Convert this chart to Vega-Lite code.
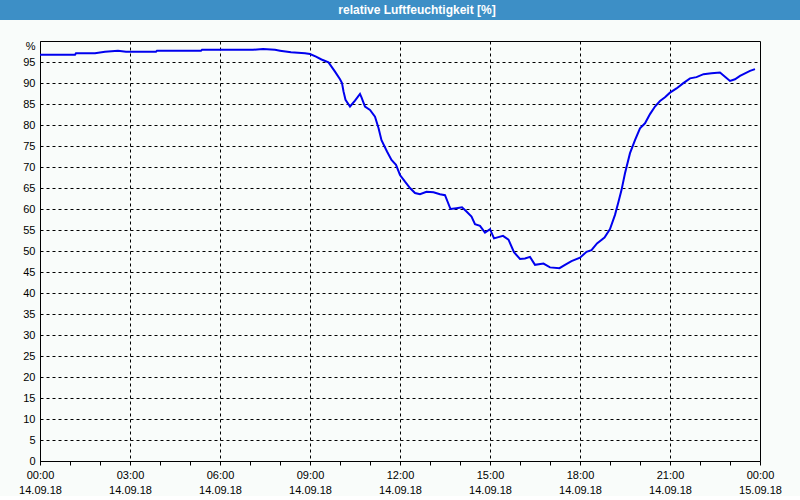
{
  "$schema": "https://vega.github.io/schema/vega-lite/v6.json",
  "padding": 0,
  "background": "#f9fcfa",
  "spacing": 21,
  "center": true,
  "bounds": "flush",
  "config": {
    "axis": {"labelFont": "Liberation Sans", "labelFontSize": 11, "labelColor": "#000000", "domainColor": "#000000", "tickColor": "#000000", "titleFont": "Liberation Sans"}
  },
  "vconcat": [
    {
      "width": 800,
      "height": 20,
      "view": {"fill": "#3d8fc6", "stroke": null},
      "data": {"values": [{"title": "relative Luftfeuchtigkeit [%]"}]},
      "mark": {"type": "text", "color": "#ffffff", "font": "Liberation Sans", "fontSize": 12, "fontWeight": "bold", "dx": 17, "baseline": "middle"},
      "encoding": {"text": {"field": "title", "type": "nominal"}}
    },
    {
      "width": 720,
      "height": 420,
      "view": {"stroke": "#000000", "strokeWidth": 1},
      "data": {"values": [
        {"t": "2018-09-14T00:00", "v": 96.7},
        {"t": "2018-09-14T01:10", "v": 96.7},
        {"t": "2018-09-14T01:12", "v": 97.1},
        {"t": "2018-09-14T01:50", "v": 97.1},
        {"t": "2018-09-14T02:10", "v": 97.45},
        {"t": "2018-09-14T02:36", "v": 97.7},
        {"t": "2018-09-14T02:52", "v": 97.45},
        {"t": "2018-09-14T03:52", "v": 97.45},
        {"t": "2018-09-14T03:54", "v": 97.7},
        {"t": "2018-09-14T05:22", "v": 97.7},
        {"t": "2018-09-14T05:24", "v": 97.9},
        {"t": "2018-09-14T07:06", "v": 97.9},
        {"t": "2018-09-14T07:26", "v": 98.1},
        {"t": "2018-09-14T07:50", "v": 97.9},
        {"t": "2018-09-14T08:00", "v": 97.7},
        {"t": "2018-09-14T08:22", "v": 97.3},
        {"t": "2018-09-14T08:50", "v": 97.1},
        {"t": "2018-09-14T09:00", "v": 96.9},
        {"t": "2018-09-14T09:12", "v": 96.3},
        {"t": "2018-09-14T09:23", "v": 95.6},
        {"t": "2018-09-14T09:37", "v": 94.9},
        {"t": "2018-09-14T09:43", "v": 93.9},
        {"t": "2018-09-14T09:50", "v": 92.7},
        {"t": "2018-09-14T10:00", "v": 90.9},
        {"t": "2018-09-14T10:04", "v": 90.0},
        {"t": "2018-09-14T10:07", "v": 88.0},
        {"t": "2018-09-14T10:11", "v": 86.0},
        {"t": "2018-09-14T10:20", "v": 84.4},
        {"t": "2018-09-14T10:30", "v": 85.8},
        {"t": "2018-09-14T10:40", "v": 87.4},
        {"t": "2018-09-14T10:43", "v": 86.6},
        {"t": "2018-09-14T10:50", "v": 84.4},
        {"t": "2018-09-14T11:00", "v": 83.6},
        {"t": "2018-09-14T11:10", "v": 82.0},
        {"t": "2018-09-14T11:17", "v": 79.3},
        {"t": "2018-09-14T11:23", "v": 76.4},
        {"t": "2018-09-14T11:34", "v": 73.7},
        {"t": "2018-09-14T11:43", "v": 71.7},
        {"t": "2018-09-14T11:52", "v": 70.5},
        {"t": "2018-09-14T12:00", "v": 68.1},
        {"t": "2018-09-14T12:10", "v": 66.5},
        {"t": "2018-09-14T12:20", "v": 65.0},
        {"t": "2018-09-14T12:30", "v": 63.8},
        {"t": "2018-09-14T12:40", "v": 63.5},
        {"t": "2018-09-14T12:53", "v": 64.1},
        {"t": "2018-09-14T13:07", "v": 64.0},
        {"t": "2018-09-14T13:20", "v": 63.5},
        {"t": "2018-09-14T13:30", "v": 63.3},
        {"t": "2018-09-14T13:41", "v": 60.0},
        {"t": "2018-09-14T13:53", "v": 60.2},
        {"t": "2018-09-14T14:04", "v": 60.4},
        {"t": "2018-09-14T14:13", "v": 59.4},
        {"t": "2018-09-14T14:23", "v": 58.2},
        {"t": "2018-09-14T14:30", "v": 56.4},
        {"t": "2018-09-14T14:40", "v": 56.0},
        {"t": "2018-09-14T14:50", "v": 54.4},
        {"t": "2018-09-14T15:00", "v": 55.2},
        {"t": "2018-09-14T15:08", "v": 53.0},
        {"t": "2018-09-14T15:26", "v": 53.6},
        {"t": "2018-09-14T15:37", "v": 52.7},
        {"t": "2018-09-14T15:48", "v": 49.7},
        {"t": "2018-09-14T16:00", "v": 48.1},
        {"t": "2018-09-14T16:10", "v": 48.2},
        {"t": "2018-09-14T16:20", "v": 48.6},
        {"t": "2018-09-14T16:30", "v": 46.7},
        {"t": "2018-09-14T16:47", "v": 47.0},
        {"t": "2018-09-14T17:00", "v": 46.1},
        {"t": "2018-09-14T17:19", "v": 45.9},
        {"t": "2018-09-14T17:30", "v": 46.7},
        {"t": "2018-09-14T17:43", "v": 47.6},
        {"t": "2018-09-14T18:00", "v": 48.4},
        {"t": "2018-09-14T18:13", "v": 49.8},
        {"t": "2018-09-14T18:23", "v": 50.2},
        {"t": "2018-09-14T18:34", "v": 51.8},
        {"t": "2018-09-14T18:49", "v": 53.2},
        {"t": "2018-09-14T19:00", "v": 55.2},
        {"t": "2018-09-14T19:10", "v": 58.6},
        {"t": "2018-09-14T19:17", "v": 61.7},
        {"t": "2018-09-14T19:23", "v": 64.5},
        {"t": "2018-09-14T19:30", "v": 68.5},
        {"t": "2018-09-14T19:40", "v": 73.3},
        {"t": "2018-09-14T19:50", "v": 76.4},
        {"t": "2018-09-14T20:00", "v": 79.2},
        {"t": "2018-09-14T20:10", "v": 80.4},
        {"t": "2018-09-14T20:20", "v": 82.6},
        {"t": "2018-09-14T20:30", "v": 84.4},
        {"t": "2018-09-14T20:40", "v": 85.7},
        {"t": "2018-09-14T20:50", "v": 86.6},
        {"t": "2018-09-14T21:00", "v": 87.7},
        {"t": "2018-09-14T21:13", "v": 88.7},
        {"t": "2018-09-14T21:26", "v": 89.9},
        {"t": "2018-09-14T21:40", "v": 91.1},
        {"t": "2018-09-14T21:53", "v": 91.4},
        {"t": "2018-09-14T22:07", "v": 92.1},
        {"t": "2018-09-14T22:23", "v": 92.3},
        {"t": "2018-09-14T22:40", "v": 92.5},
        {"t": "2018-09-14T22:50", "v": 91.5},
        {"t": "2018-09-14T23:00", "v": 90.5},
        {"t": "2018-09-14T23:10", "v": 90.9},
        {"t": "2018-09-14T23:20", "v": 91.7},
        {"t": "2018-09-14T23:30", "v": 92.3},
        {"t": "2018-09-14T23:40", "v": 92.9},
        {"t": "2018-09-14T23:50", "v": 93.3}
      ]},
      "encoding": {
        "y": {
          "field": "v",
          "type": "quantitative",
          "scale": {"domain": [0, 100], "nice": false},
          "axis": {
            "title": "%",
            "titleAngle": 0,
            "titleAlign": "right",
            "titleBaseline": "middle",
            "titleX": -5,
            "titleY": 5,
            "titleFontSize": 11,
            "titleFontWeight": "normal",
            "titleColor": "#000000",
            "values": [0, 5, 10, 15, 20, 25, 30, 35, 40, 45, 50, 55, 60, 65, 70, 75, 80, 85, 90, 95],
            "ticks": false,
            "labelPadding": 5,
            "gridColor": "#000000",
            "gridDash": [3, 3],
            "labelOverlap": false
          }
        }
      },
      "layer": [
        {
          "mark": {"type": "line", "strokeOpacity": 0},
          "encoding": {
            "x": {
              "field": "t",
              "type": "temporal",
              "scale": {"domain": [{"year": 2018, "month": 9, "date": 14, "hours": 0}, {"year": 2018, "month": 9, "date": 15, "hours": 0}]},
              "axis": {
                "orient": "bottom",
                "title": null,
                "values": [
                  {"year": 2018, "month": 9, "date": 14, "hours": 3}, {"year": 2018, "month": 9, "date": 14, "hours": 6},
                  {"year": 2018, "month": 9, "date": 14, "hours": 9}, {"year": 2018, "month": 9, "date": 14, "hours": 12},
                  {"year": 2018, "month": 9, "date": 14, "hours": 15}, {"year": 2018, "month": 9, "date": 14, "hours": 18},
                  {"year": 2018, "month": 9, "date": 14, "hours": 21}
                ],
                "grid": true,
                "gridColor": "#000000",
                "gridDash": [3, 3],
                "domain": false,
                "ticks": false,
                "labels": false
              }
            }
          }
        },
        {
          "mark": {"type": "line", "color": "#0000ee", "strokeWidth": 2},
          "encoding": {
            "x": {
              "field": "t",
              "type": "temporal",
              "scale": {"domain": [{"year": 2018, "month": 9, "date": 14, "hours": 0}, {"year": 2018, "month": 9, "date": 15, "hours": 0}]},
              "axis": {
                "orient": "bottom",
                "title": null,
                "values": [
                  {"year": 2018, "month": 9, "date": 14, "hours": 0}, {"year": 2018, "month": 9, "date": 14, "hours": 1}, {"year": 2018, "month": 9, "date": 14, "hours": 2},
                  {"year": 2018, "month": 9, "date": 14, "hours": 3}, {"year": 2018, "month": 9, "date": 14, "hours": 4}, {"year": 2018, "month": 9, "date": 14, "hours": 5},
                  {"year": 2018, "month": 9, "date": 14, "hours": 6}, {"year": 2018, "month": 9, "date": 14, "hours": 7}, {"year": 2018, "month": 9, "date": 14, "hours": 8},
                  {"year": 2018, "month": 9, "date": 14, "hours": 9}, {"year": 2018, "month": 9, "date": 14, "hours": 10}, {"year": 2018, "month": 9, "date": 14, "hours": 11},
                  {"year": 2018, "month": 9, "date": 14, "hours": 12}, {"year": 2018, "month": 9, "date": 14, "hours": 13}, {"year": 2018, "month": 9, "date": 14, "hours": 14},
                  {"year": 2018, "month": 9, "date": 14, "hours": 15}, {"year": 2018, "month": 9, "date": 14, "hours": 16}, {"year": 2018, "month": 9, "date": 14, "hours": 17},
                  {"year": 2018, "month": 9, "date": 14, "hours": 18}, {"year": 2018, "month": 9, "date": 14, "hours": 19}, {"year": 2018, "month": 9, "date": 14, "hours": 20},
                  {"year": 2018, "month": 9, "date": 14, "hours": 21}, {"year": 2018, "month": 9, "date": 14, "hours": 22}, {"year": 2018, "month": 9, "date": 14, "hours": 23},
                  {"year": 2018, "month": 9, "date": 15, "hours": 0}
                ],
                "labelExpr": "hours(datum.value) % 3 == 0 ? [timeFormat(datum.value, '%H:%M'), timeFormat(datum.value, '%d.%m.%y')] : ''",
                "labelOverlap": false,
                "labelFlush": false,
                "labelLineHeight": 15,
                "labelPadding": 4,
                "tickSize": 4,
                "grid": false
              }
            }
          }
        }
      ],
      "resolve": {"axis": {"x": "independent"}}
    }
  ]
}
